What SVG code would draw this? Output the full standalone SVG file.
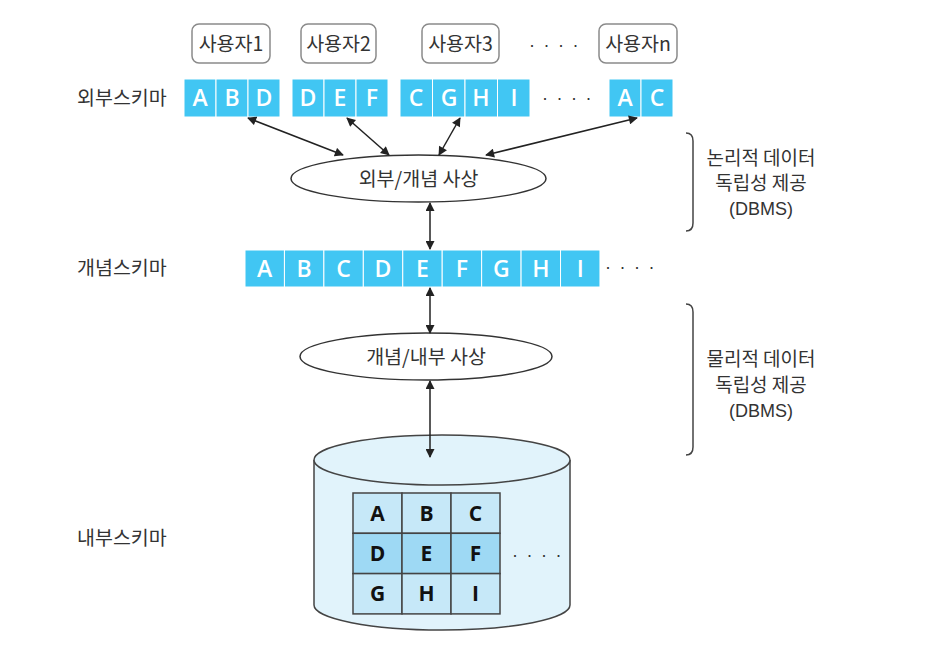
<svg xmlns="http://www.w3.org/2000/svg" width="926" height="654" viewBox="0 0 926 654">
<defs>
<style>
.kr{font-family:"Noto Sans CJK KR","Noto Sans",sans-serif;font-size:19.5px;fill:#333;}
.ukr{font-family:"Noto Sans CJK KR","Noto Sans",sans-serif;font-size:19.5px;fill:#333;text-anchor:middle;}
.ukr2{font-family:"Noto Sans CJK KR","Noto Sans",sans-serif;font-size:19px;fill:#333;text-anchor:middle;}
.lat{font-family:"Liberation Sans",Arial,sans-serif;font-size:18px;fill:#333;text-anchor:middle;}
.ubox{fill:#fff;stroke:#8a8a8a;stroke-width:1.5;}
.cell{fill:#41c6f3;stroke:#fff;stroke-width:1;}
.cl{font-family:"Open Sans","Noto Sans",sans-serif;font-weight:600;font-size:23px;fill:#fff;text-anchor:middle;}
.gl{font-family:"Open Sans","Noto Sans",sans-serif;font-weight:700;font-size:21px;fill:#111;text-anchor:middle;}
.dots{font-family:"Liberation Sans",sans-serif;font-size:18px;fill:#333;letter-spacing:8.5px;}
.ell{fill:#fff;stroke:#333;stroke-width:1.5;}
.arr{stroke:#222;stroke-width:1.5;fill:none;marker-start:url(#ah);marker-end:url(#ah);}
.brk{fill:none;stroke:#444;stroke-width:1.5;}
.g1{fill:#c6e8f8;stroke:#444;stroke-width:1.5;}
.g2{fill:#9ed9f4;stroke:#444;stroke-width:1.5;}
</style>
<marker id="ah" viewBox="0 0 10 10" refX="9" refY="5" markerWidth="10" markerHeight="9" markerUnits="userSpaceOnUse" orient="auto-start-reverse">
<path d="M0,0 L10,5 L0,10 Z" fill="#222"/>
</marker>
</defs>

<g id="labels">
<text class="kr" x="77" y="105">외부스키마</text>
<text class="kr" x="77" y="275">개념스키마</text>
<text class="kr" x="77" y="545">내부스키마</text>
</g>

<g id="users">
<g id="user1"><rect class="ubox" x="192" y="24" width="78" height="39" rx="7"/><text class="ukr" x="231" y="51">사용자1</text></g>
<g id="user2"><rect class="ubox" x="301" y="24" width="75" height="39" rx="7"/><text class="ukr" x="338.5" y="51">사용자2</text></g>
<g id="user3"><rect class="ubox" x="422" y="24" width="77" height="39" rx="7"/><text class="ukr" x="460.5" y="51">사용자3</text></g>
<text class="dots" x="529" y="51">····</text>
<g id="usern"><rect class="ubox" x="599" y="24" width="78" height="39" rx="7"/><text class="ukr" x="638" y="51">사용자n</text></g>
</g>

<g id="external-schema">
<g id="ext1">
<rect class="cell" x="184" y="79" width="32" height="38"/><rect class="cell" x="216" y="79" width="32" height="38"/><rect class="cell" x="248" y="79" width="32" height="38"/>
<text class="cl" x="200" y="106">A</text><text class="cl" x="232" y="106">B</text><text class="cl" x="264" y="106">D</text>
</g>
<g id="ext2">
<rect class="cell" x="292" y="79" width="32" height="38"/><rect class="cell" x="324" y="79" width="32" height="38"/><rect class="cell" x="356" y="79" width="32" height="38"/>
<text class="cl" x="308" y="106">D</text><text class="cl" x="340" y="106">E</text><text class="cl" x="372" y="106">F</text>
</g>
<g id="ext3">
<rect class="cell" x="400" y="79" width="32.5" height="38"/><rect class="cell" x="432.5" y="79" width="32.5" height="38"/><rect class="cell" x="465" y="79" width="32.5" height="38"/><rect class="cell" x="497.5" y="79" width="32.5" height="38"/>
<text class="cl" x="416" y="106">C</text><text class="cl" x="449" y="106">G</text><text class="cl" x="481" y="106">H</text><text class="cl" x="514" y="106">I</text>
</g>
<text class="dots" x="542" y="104">····</text>
<g id="extn">
<rect class="cell" x="609" y="79" width="32" height="38"/><rect class="cell" x="641" y="79" width="32" height="38"/>
<text class="cl" x="625" y="106">A</text><text class="cl" x="657" y="106">C</text>
</g>
</g>

<g id="map-ext-conc">
<ellipse class="ell" cx="418.5" cy="178.5" rx="127.5" ry="23.5"/>
<text class="ukr" x="418.5" y="185.5">외부/개념 사상</text>
</g>

<g id="conceptual-schema">
<rect class="cell" x="245" y="250" width="39.44" height="37"/>
<rect class="cell" x="284.44" y="250" width="39.44" height="37"/>
<rect class="cell" x="323.88" y="250" width="39.44" height="37"/>
<rect class="cell" x="363.32" y="250" width="39.44" height="37"/>
<rect class="cell" x="402.76" y="250" width="39.44" height="37"/>
<rect class="cell" x="442.2" y="250" width="39.44" height="37"/>
<rect class="cell" x="481.64" y="250" width="39.44" height="37"/>
<rect class="cell" x="521.08" y="250" width="39.44" height="37"/>
<rect class="cell" x="560.52" y="250" width="39.44" height="37"/>
<text class="cl" x="264.7" y="276.5">A</text>
<text class="cl" x="304.2" y="276.5">B</text>
<text class="cl" x="343.6" y="276.5">C</text>
<text class="cl" x="383" y="276.5">D</text>
<text class="cl" x="422.5" y="276.5">E</text>
<text class="cl" x="461.9" y="276.5">F</text>
<text class="cl" x="501.4" y="276.5">G</text>
<text class="cl" x="540.8" y="276.5">H</text>
<text class="cl" x="580.2" y="276.5">I</text>
<text class="dots" x="605" y="273">····</text>
</g>

<g id="map-conc-int">
<ellipse class="ell" cx="426" cy="356.5" rx="126" ry="23.5"/>
<text class="ukr" x="426" y="363.5">개념/내부 사상</text>
</g>

<g id="internal-schema">
<path d="M314,460 L314,605 A128,25 0 0 0 570,605 L570,460" fill="#e1f3fb" stroke="#444" stroke-width="1.5"/>
<ellipse cx="442" cy="460" rx="128" ry="25" fill="#e1f3fb" stroke="#444" stroke-width="1.5"/>
<rect class="g1" x="353" y="493" width="49" height="40.3"/>
<rect class="g1" x="402" y="493" width="49" height="40.3"/>
<rect class="g1" x="451" y="493" width="49" height="40.3"/>
<rect class="g2" x="353" y="533.3" width="49" height="40.3"/>
<rect class="g2" x="402" y="533.3" width="49" height="40.3"/>
<rect class="g2" x="451" y="533.3" width="49" height="40.3"/>
<rect class="g1" x="353" y="573.6" width="49" height="40.3"/>
<rect class="g1" x="402" y="573.6" width="49" height="40.3"/>
<rect class="g1" x="451" y="573.6" width="49" height="40.3"/>
<text class="gl" x="377.5" y="521">A</text><text class="gl" x="426.5" y="521">B</text><text class="gl" x="475.5" y="521">C</text>
<text class="gl" x="377.5" y="561">D</text><text class="gl" x="426.5" y="561">E</text><text class="gl" x="475.5" y="561">F</text>
<text class="gl" x="377.5" y="601">G</text><text class="gl" x="426.5" y="601">H</text><text class="gl" x="475.5" y="601">I</text>
<text class="dots" x="512" y="561">····</text>
</g>

<g id="brackets">
<g id="logical">
<path class="brk" d="M686,133 Q693,133 693,141 L693,223 Q693,231 686,231"/>
<text class="ukr2" x="761" y="165">논리적 데이터</text>
<text class="ukr2" x="761" y="190">독립성 제공</text>
<text class="lat" x="761" y="215">(DBMS)</text>
</g>
<g id="physical">
<path class="brk" d="M686,304 Q693,304 693,312 L693,447 Q693,455 686,455"/>
<text class="ukr2" x="761" y="366">물리적 데이터</text>
<text class="ukr2" x="761" y="392">독립성 제공</text>
<text class="lat" x="761" y="417">(DBMS)</text>
</g>
</g>

<g id="connectors">
<line class="arr" x1="248" y1="118" x2="343" y2="155"/>
<line class="arr" x1="347" y1="118" x2="389" y2="155"/>
<line class="arr" x1="460" y1="118" x2="439" y2="155"/>
<line class="arr" x1="637" y1="118" x2="486" y2="155"/>
<line class="arr" x1="430" y1="203" x2="430" y2="249"/>
<line class="arr" x1="430" y1="288" x2="430" y2="333"/>
<line class="arr" x1="430" y1="381" x2="430" y2="457"/>
</g>
</svg>
